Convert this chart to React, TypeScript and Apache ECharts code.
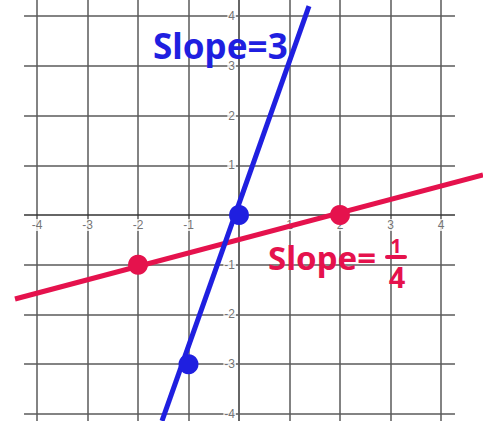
import React, { useEffect, useRef } from "react";
import * as echarts from "echarts";

// Grid lines and tick labels (math units)
const gridXs = [-4, -3, -2, -1, 0, 1, 2, 3, 4];
const gridYs = [-4, -3, -2, -1, 0, 1, 2, 3, 4];
const xTickLabels = [-4, -3, -2, -1, 1, 2, 3, 4];
const yTickLabels = [-4, -3, -2, -1, 1, 2, 3, 4];
// Extent of the drawn grid lines
const gridLineXExtent = [-4.257, 4.277];
const gridLineYExtent = [-4.141, 4.322];
// Full visible window
const xRange = [-4.733, 4.832];
const yRange = [-4.141, 4.322];

// Lines (endpoints as drawn) and marked points
const blueLine = [[-1.525, -4.14], [1.386, 4.2]];
const redLine = [[-4.436, -1.688], [4.832, 0.804]];
const bluePoints = [[0, 0], [-1, -3]];
const redPoints = [[-2, -1], [2, 0]];

const BLUE = "#1f1fe0";
const RED = "#e5124d";
const GRID = "#5a5a5a";
const AXIS = "#333333";
const HAND = '"Noto Sans", "DejaVu Sans", sans-serif';

export default function App() {
  const ref = useRef<HTMLDivElement>(null);
  useEffect(() => {
    if (!ref.current) return;
    const chart = echarts.init(ref.current, undefined, { renderer: "svg" });
    const gridData = [
      ...gridXs.map((x) => ({
        coords: [[x, gridLineYExtent[0]], [x, gridLineYExtent[1]]],
        lineStyle: { color: x === 0 ? AXIS : GRID, width: 1.5, opacity: 1 },
      })),
      ...gridYs.map((y) => ({
        coords: [[gridLineXExtent[0], y], [gridLineXExtent[1], y]],
        lineStyle: { color: y === 0 ? AXIS : GRID, width: 1.5, opacity: 1 },
      })),
    ];
    const labelStyle = {
      show: true,
      color: "#505050",
      fontSize: 12,
      fontFamily: '"Liberation Sans", Arial, sans-serif',
      backgroundColor: "#ffffff",
      padding: [0, 1],
    };
    chart.setOption({
      animation: false,
      backgroundColor: "#ffffff",
      grid: { left: 0, right: 0, top: 0, bottom: 0 },
      xAxis: { type: "value", min: xRange[0], max: xRange[1], show: false },
      yAxis: { type: "value", min: yRange[0], max: yRange[1], show: false },
      series: [
        {
          type: "lines",
          coordinateSystem: "cartesian2d",
          data: gridData,
          lineStyle: { opacity: 1, curveness: 0 },
          silent: true,
          z: 1,
        },
        {
          type: "scatter",
          data: xTickLabels.map((v) => [v, 0]),
          symbolSize: 0,
          itemStyle: { color: "transparent" },
          label: {
            ...labelStyle,
            position: "bottom",
            distance: 4,
            formatter: (p: any) => String(p.value[0]),
          },
          silent: true,
          z: 2,
        },
        {
          type: "scatter",
          data: yTickLabels.map((v) => [0, v]),
          symbolSize: 0,
          itemStyle: { color: "transparent" },
          label: {
            ...labelStyle,
            position: "left",
            distance: 3,
            formatter: (p: any) => String(p.value[1]),
          },
          silent: true,
          z: 2,
        },
        {
          type: "line",
          data: redLine,
          clip: false,
          showSymbol: false,
          lineStyle: { color: RED, width: 5 },
          z: 3,
        },
        {
          type: "line",
          data: blueLine,
          clip: false,
          showSymbol: false,
          lineStyle: { color: BLUE, width: 5 },
          z: 3,
        },
        {
          type: "scatter",
          data: redPoints,
          symbolSize: 20,
          itemStyle: { color: RED, opacity: 1 },
          z: 4,
        },
        {
          type: "scatter",
          data: bluePoints,
          symbolSize: 20,
          itemStyle: { color: BLUE, opacity: 1 },
          z: 4,
        },
      ],
      graphic: [
        {
          type: "text",
          x: 153,
          y: 45,
          z: 10,
          style: {
            text: "Slope=3",
            fill: BLUE,
            fontSize: 35,
            fontWeight: "bold",
            fontFamily: HAND,
            align: "left",
            verticalAlign: "middle",
          },
        },
        {
          type: "text",
          x: 268,
          y: 257,
          z: 10,
          style: {
            text: "Slope=",
            fill: RED,
            fontSize: 33,
            fontWeight: "bold",
            fontFamily: HAND,
            align: "left",
            verticalAlign: "middle",
          },
        },
        {
          type: "text",
          x: 396,
          y: 245,
          z: 10,
          style: {
            text: "1",
            fill: RED,
            fontSize: 20,
            fontWeight: "bold",
            fontFamily: HAND,
            align: "center",
            verticalAlign: "middle",
          },
        },
        {
          type: "rect",
          z: 10,
          shape: { x: 385, y: 255, width: 22, height: 4, r: 2 },
          style: { fill: RED },
        },
        {
          type: "text",
          x: 397,
          y: 276,
          z: 10,
          style: {
            text: "4",
            fill: RED,
            fontSize: 29,
            fontWeight: "bold",
            fontFamily: HAND,
            align: "center",
            verticalAlign: "middle",
          },
        },
      ],
    });
    return () => chart.dispose();
  }, []);
  return (
    <div
      ref={ref}
      style={{ position: "fixed", left: 0, top: 0, width: 483, height: 421 }}
    />
  );
}
